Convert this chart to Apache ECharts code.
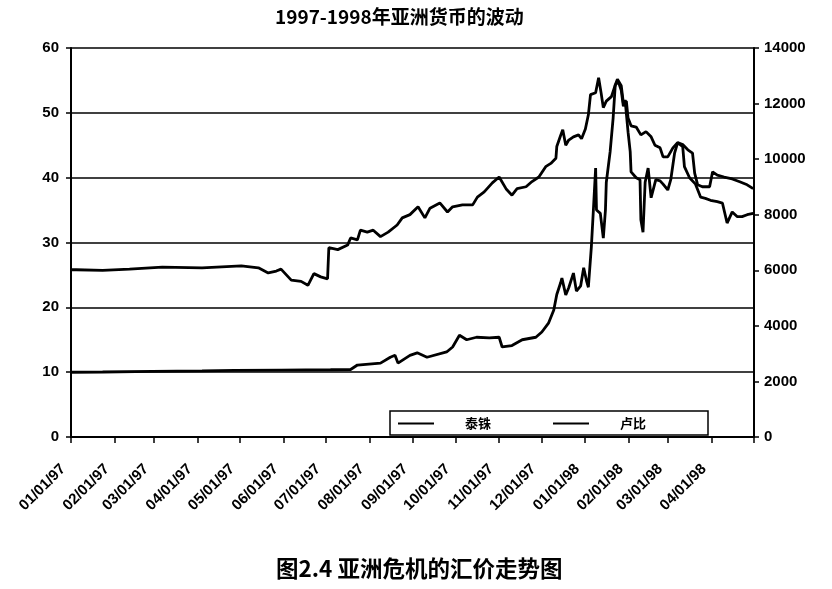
<!DOCTYPE html>
<html>
<head>
<meta charset="utf-8">
<script src="https://cdn.jsdelivr.net/npm/echarts@6/dist/echarts.min.js"></script>
<style>
  html, body { margin: 0; padding: 0; background: #fff; }
  #chart { width: 832px; height: 589px; }
</style>
</head>
<body>
<div id="chart"></div>
<script>
// Month tick labels of the date axis (01/01/97 ... 04/01/98; axis ends on 05/01/98)
const monthLabels = ['01/01/97','02/01/97','03/01/97','04/01/97','05/01/97','06/01/97','07/01/97','08/01/97',
  '09/01/97','10/01/97','11/01/97','12/01/97','01/01/98','02/01/98','03/01/98','04/01/98'];
const axisEnd = '05/01/98';
const leftTicks = [0, 10, 20, 30, 40, 50, 60];
const rightTicks = [0, 2000, 4000, 6000, 8000, 10000, 12000, 14000];

// 泰铢 (left axis): position along the axis in months (0 = 01/01/97, 16 = 05/01/98), and value
const bahtT = [0,0.12,0.74,1.37,2.14,3.07,3.99,4.39,4.62,4.81,4.92,5.16,5.39,5.55,5.69,5.85,6.01,6.04,6.25,6.48,6.55,6.71,6.78,6.94,7.08,7.25,7.43,7.64,7.76,7.94,8.13,8.29,8.41,8.64,8.82,8.94,9.17,9.41,9.52,9.68,9.87,10.03,10.20,10.33,10.45,10.66,10.80,10.96,11.12,11.24,11.36,11.38,11.47,11.52,11.59,11.66,11.77,11.89,11.96,12.05,12.12,12.17,12.29,12.36,12.42,12.47,12.54,12.66,12.75,12.80,12.89,12.94,13.01,13.05,13.12,13.24,13.35,13.47,13.59,13.68,13.80,13.87,13.98,14.10,14.21,14.33,14.45,14.56,14.61,14.68,14.79,14.96,15.03,15.14,15.30,15.49,15.65,15.84,15.98];
const bahtV = [25.8,25.8,25.7,25.9,26.2,26.1,26.4,26.1,25.3,25.6,25.9,24.2,24.0,23.4,25.2,24.7,24.4,29.2,28.9,29.6,30.7,30.4,31.9,31.6,31.9,30.9,31.6,32.7,33.8,34.3,35.5,33.8,35.3,36.1,34.7,35.5,35.8,35.8,37.0,37.8,39.2,40.1,38.2,37.3,38.3,38.6,39.4,40.1,41.7,42.2,43.0,44.8,46.5,47.4,45.0,45.8,46.3,46.6,46.0,47.5,49.7,52.8,53.1,55.4,53.0,50.8,51.8,52.5,54.3,55.2,54.2,51.5,51.8,49.2,48.0,47.8,46.6,47.1,46.3,45.0,44.6,43.2,43.2,44.6,45.4,45.1,44.3,43.8,40.7,38.9,38.6,38.6,40.9,40.4,40.1,39.8,39.4,38.9,38.3];

// 卢比 (right axis): position along the axis in months, and value
const rupiahT = [0,0.74,1.90,3.07,3.83,4.92,6.08,6.55,6.71,7.25,7.48,7.59,7.66,7.94,8.11,8.34,8.80,8.94,9.10,9.27,9.50,9.80,10.03,10.10,10.33,10.57,10.89,11.03,11.19,11.31,11.38,11.47,11.50,11.59,11.66,11.77,11.84,11.94,12.01,12.08,12.12,12.19,12.24,12.29,12.31,12.40,12.47,12.52,12.54,12.63,12.70,12.75,12.82,12.89,12.94,12.98,13.05,13.10,13.12,13.24,13.33,13.35,13.40,13.45,13.52,13.59,13.63,13.70,13.80,13.87,13.98,14.05,14.14,14.21,14.33,14.37,14.49,14.63,14.75,14.86,14.98,15.14,15.26,15.37,15.49,15.61,15.72,15.84,15.98];
const rupiahV = [2330,2340,2360,2380,2400,2410,2420,2430,2590,2660,2870,2940,2660,2940,3030,2870,3060,3240,3660,3500,3590,3570,3590,3240,3290,3500,3590,3780,4110,4570,5130,5550,5720,5110,5370,5900,5250,5440,6090,5600,5390,6840,8240,9680,8170,8050,7160,8170,9170,10270,11480,12670,12790,12480,11900,12130,10970,10270,9540,9330,9260,7820,7370,9170,9680,8610,8630,9260,9220,9100,8890,9260,10220,10590,10450,9730,9330,9100,8630,8590,8520,8470,8420,7700,8100,7930,7930,8000,8050];

const seriesNames = ['泰铢', '卢比'];
const titleText = '1997-1998年亚洲货币的波动';
const captionText = '图2.4 亚洲危机的汇价走势图';

// date helpers (axis values are day numbers since 01/01/97)
const DAY = 86400000;
const parseMDY = s => { const [m, d, y] = s.split('/').map(Number); return Date.UTC(1900 + y, m - 1, d); };
const t0 = parseMDY(monthLabels[0]);
const toDay = s => Math.round((parseMDY(s) - t0) / DAY);
const dEnd = toDay(axisEnd);
const nMonths = monthLabels.length;
const toPos = m => (m / nMonths) * dEnd;
const zip = (t, v) => t.map((x, i) => [toPos(x), v[i]]);
const monthStarts = monthLabels.map(toDay);
const tickValues = monthStarts.concat([dEnd]);
const labelFor = v => { const i = monthStarts.indexOf(Math.round(v)); return i >= 0 ? monthLabels[i] : ''; };

const chart = echarts.init(document.getElementById('chart'));
const numFont = { fontFamily: 'Liberation Sans, Arial, sans-serif', fontWeight: 'bold', fontSize: 14, color: '#000' };
const cjkFont = 'Noto Sans CJK SC, Liberation Sans, sans-serif';
chart.setOption({
  animation: false,
  backgroundColor: '#fff',
  title: [
    { text: titleText, left: 270, top: 2,
      textStyle: { fontFamily: cjkFont, fontWeight: 'bold', fontSize: 19, color: '#000' } },
    { text: captionText, left: 271, top: 552,
      textStyle: { fontFamily: cjkFont, fontWeight: 'bold', fontSize: 22.5, color: '#000' } }
  ],
  grid: { left: 71, right: 78, top: 48, bottom: 152, containLabel: false },
  legend: {
    data: seriesNames,
    left: 390, top: 411,
    orient: 'horizontal',
    backgroundColor: '#fff',
    borderColor: '#000', borderWidth: 1.5, borderRadius: 0,
    padding: [6, 62, 5, 8],
    itemGap: 62,
    itemWidth: 36, itemHeight: 10,
    icon: 'path://M0,4 L36,4 L36,6 L0,6 Z',
    textStyle: { fontFamily: cjkFont, fontSize: 13, fontWeight: 'bold', color: '#000', padding: [0, 0, 0, 26] }
  },
  xAxis: {
    type: 'value', min: 0, max: dEnd,
    axisLine: { lineStyle: { color: '#000', width: 2 } },
    axisTick: { show: true, length: 6, customValues: tickValues, lineStyle: { color: '#000', width: 1.5 } },
    splitLine: { show: false },
    axisLabel: Object.assign({}, numFont, { rotate: 45, fontSize: 15, margin: 22, padding: [0, 11, 0, 0],
      customValues: monthStarts, formatter: v => labelFor(v) })
  },
  yAxis: [
    { type: 'value', min: leftTicks[0], max: leftTicks[leftTicks.length - 1], interval: 10,
      axisLine: { show: true, lineStyle: { color: '#000', width: 2 } },
      axisTick: { show: true, length: 5, lineStyle: { color: '#000', width: 1.5 } },
      splitLine: { show: true, lineStyle: { color: '#000', width: 1.5 } },
      axisLabel: Object.assign({}, numFont, { fontSize: 15, margin: 12 }) },
    { type: 'value', min: rightTicks[0], max: rightTicks[rightTicks.length - 1], interval: 2000,
      position: 'right',
      axisLine: { show: true, lineStyle: { color: '#000', width: 2 } },
      axisTick: { show: true, length: 5, lineStyle: { color: '#000', width: 1.5 } },
      splitLine: { show: false },
      axisLabel: Object.assign({}, numFont, { fontSize: 15, margin: 10, formatter: v => String(v) }) }
  ],
  series: [
    { name: seriesNames[0], type: 'line', yAxisIndex: 0, data: zip(bahtT, bahtV),
      showSymbol: false, symbol: 'none', lineStyle: { color: '#000', width: 2.8 }, itemStyle: { color: '#000' } },
    { name: seriesNames[1], type: 'line', yAxisIndex: 1, data: zip(rupiahT, rupiahV),
      showSymbol: false, symbol: 'none', lineStyle: { color: '#000', width: 2.8 }, itemStyle: { color: '#000' } }
  ]
});
</script>
</body>
</html>
